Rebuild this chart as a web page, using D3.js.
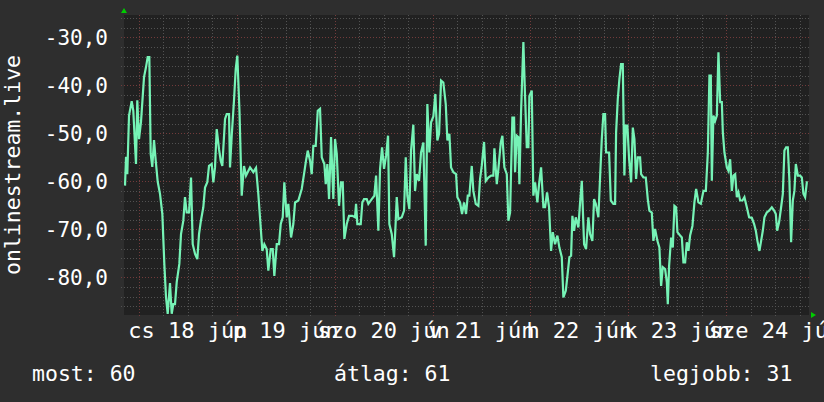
<!DOCTYPE html>
<html>
<head>
<meta charset="utf-8">
<script src="https://cdn.jsdelivr.net/npm/d3@7"></script>
<style>
  body { margin: 0; background: #2e2e2e; }
  text { font-family: "DejaVu Sans Mono", monospace; font-size: 21px; fill: #ffffff; }
  .xlabel { font-size: 22px; }
  .legend, .ytitle { font-size: 21.5px; }
</style>
</head>
<body>
<div class="chart"></div>
<script>
const WIDTH = 824;
const HEIGHT = 402;
const PLOT_LEFT = 124, PLOT_RIGHT = 809, PLOT_TOP = 15, PLOT_BOTTOM = 315;

// hours since 2020-06-18 00:00
var hours = [
  -3.43,-3.19,-2.87,-2.45,-1.79,-1.40,-0.74,-0.42,0.00,0.49,
  1.23,1.72,2.13,2.53,2.87,3.26,3.68,4.10,4.59,5.15,
  5.72,6.21,6.62,7.04,7.60,8.02,8.41,8.83,9.25,9.89,
  10.30,10.87,11.28,11.70,12.27,12.76,13.17,13.74,14.30,14.72,
  15.13,15.77,16.19,16.75,17.17,17.83,18.23,18.64,19.06,19.62,
  20.04,20.43,21.10,21.51,22.08,22.32,22.74,23.30,23.72,24.11,
  24.65,25.19,25.75,26.24,27.23,28.04,28.70,29.26,29.85,30.25,
  30.74,31.32,31.72,32.31,32.80,33.19,33.78,34.34,34.76,35.25,
  35.64,36.23,36.62,37.29,37.85,38.27,39.08,39.91,40.47,40.96,
  41.38,41.95,42.36,42.76,43.34,43.84,44.40,44.82,45.45,45.80,
  46.19,46.61,47.10,47.66,48.08,48.50,49.06,49.55,49.97,50.36,
  50.95,51.51,52.32,52.98,53.23,53.55,54.38,54.77,55.19,55.85,
  56.25,57.08,57.72,58.14,58.70,59.12,59.61,60.10,60.59,61.08,
  61.40,61.99,62.55,62.97,63.21,63.61,64.44,65.01,65.42,65.81,
  66.30,66.72,67.28,67.70,68.12,68.68,69.17,69.74,70.32,70.72,
  71.21,71.63,72.19,72.68,73.17,73.59,74.08,74.64,75.23,75.63,
  76.12,76.53,77.10,77.76,78.08,78.74,79.23,79.72,80.21,80.63,
  81.02,81.61,82.00,82.59,83.23,83.65,84.06,84.63,85.05,85.68,
  86.35,86.91,87.16,87.75,88.14,88.73,89.12,89.61,90.20,90.59,
  91.01,91.57,91.99,92.23,92.65,93.04,93.29,93.70,94.27,94.69,
  95.10,95.50,95.74,96.33,96.72,97.14,97.70,98.12,98.61,99.18,
  99.59,100.08,100.57,101.06,101.48,102.04,102.61,103.10,103.69,104.08,
  104.67,105.16,105.56,105.97,106.29,106.71,107.12,107.76,108.18,108.60,
  109.16,109.65,110.21,110.63,111.19,111.61,112.03,112.66,113.08,113.50,
  113.89,114.31,114.55,115.29,115.71,116.34,116.76,117.01,117.42,117.82,
  118.23,118.65,119.04,119.38,119.78,120.20,120.69,121.11,121.50,121.91,
  122.33,122.89,123.14,123.70,124.29,124.78,125.17,125.76,126.16,126.57,
  127.14,127.63,128.05,128.46,129.03,129.45,129.69,130.01,130.50,130.92,
  131.31,131.73,132.05,132.71,133.13,133.52,133.94,134.35,134.75,135.16,
  135.73,136.22,136.64,137.20,137.79,138.43,139.02,139.51,139.90,140.24,
  140.49,140.88,141.30,141.72,142.11,142.53,142.94,143.19,143.58,144.17,
  144.56,144.98,145.40,145.79,146.21,146.62,147.01,147.43,147.99,148.48,
  149.07,149.63,150.30,150.86,151.28,151.67,152.16,152.58,152.99,153.39,
  153.97,154.54,155.20,155.76,156.18,156.50,156.99,157.48,157.90,158.29,
  158.71,159.12,159.52,159.93,160.35,160.74,161.09,161.58,162.14,162.56,
  162.95,163.37,163.79,164.03
];

var rank = [
  -60.9,-54.9,-58.5,-46.3,-43.3,-45.3,-56.4,-43.1,-51.2,-47.6,
  -38.3,-36.2,-34.1,-34.1,-54.3,-57.0,-51.4,-55.7,-60.1,-62.6,
  -66.8,-77.2,-84.1,-87.6,-81.2,-87.6,-85.6,-85.6,-81.0,-77.2,
  -71.0,-68.2,-63.3,-66.5,-66.5,-59.2,-73.1,-75.1,-76.2,-71.0,
  -68.5,-65.4,-61.3,-60.2,-56.8,-56.4,-60.2,-57.1,-49.1,-53.3,
  -55.7,-56.8,-47.0,-46.0,-46.0,-57.1,-50.5,-43.1,-36.6,-33.8,
  -45.6,-63.0,-56.8,-58.8,-57.1,-58.1,-57.2,-62.6,-69.6,-74.5,
  -73.1,-74.1,-78.6,-74.1,-74.1,-79.7,-73.1,-73.1,-68.9,-67.5,
  -60.2,-67.5,-64.7,-71.7,-68.9,-64.4,-64.0,-61.6,-58.5,-55.7,
  -53.6,-55.7,-58.5,-52.6,-52.6,-45.3,-44.9,-55.0,-56.4,-60.6,
  -56.4,-63.7,-50.8,-63.7,-51.2,-54.3,-65.1,-60.2,-60.2,-72.0,
  -68.9,-67.2,-67.2,-67.5,-64.7,-68.9,-68.9,-64.4,-63.7,-63.7,
  -64.7,-63.7,-63.0,-58.8,-70.3,-57.4,-52.9,-57.4,-54.7,-50.5,
  -68.9,-71.0,-75.8,-68.2,-63.3,-67.9,-67.5,-66.1,-55.0,-63.0,
  -65.8,-53.6,-48.2,-62.0,-58.5,-59.9,-54.0,-51.9,-73.4,-43.9,
  -54.0,-47.7,-46.5,-41.8,-51.5,-50.1,-39.0,-39.4,-43.9,-51.5,
  -50.1,-57.1,-58.1,-58.5,-63.3,-64.4,-66.8,-64.4,-66.8,-63.0,
  -63.0,-56.8,-62.0,-64.7,-65.1,-59.5,-56.8,-51.8,-59.9,-59.2,
  -58.8,-58.8,-53.1,-60.6,-57.4,-51.9,-50.5,-57.1,-58.5,-68.2,
  -66.5,-46.7,-46.7,-58.1,-50.5,-50.8,-60.6,-45.6,-31.0,-42.5,
  -52.9,-52.9,-42.2,-41.1,-63.0,-60.2,-64.4,-60.6,-57.1,-65.4,
  -65.4,-62.3,-65.4,-74.5,-70.6,-73.1,-71.3,-73.8,-75.8,-84.2,
  -82.8,-79.0,-75.8,-75.5,-67.2,-70.3,-67.5,-69.6,-64.4,-59.9,
  -73.1,-74.1,-67.5,-71.0,-72.4,-63.7,-64.7,-67.5,-59.2,-51.2,
  -46.0,-46.0,-54.0,-54.0,-64.0,-64.7,-64.7,-49.8,-42.9,-38.7,
  -35.6,-35.6,-58.8,-48.4,-48.4,-55.4,-60.2,-48.8,-51.2,-59.5,
  -55.0,-55.0,-58.5,-59.2,-59.2,-63.7,-66.1,-66.5,-72.4,-69.9,
  -72.4,-73.8,-81.8,-77.9,-78.3,-81.0,-85.6,-77.6,-71.7,-73.8,
  -65.1,-65.4,-70.6,-71.3,-71.7,-76.9,-76.9,-72.7,-74.5,-71.3,
  -69.3,-64.4,-61.6,-64.4,-64.7,-62.0,-62.0,-54.0,-38.0,-38.0,
  -59.9,-46.3,-47.4,-46.3,-33.1,-43.5,-43.5,-49.8,-54.0,-57.1,
  -57.8,-55.4,-62.0,-58.8,-58.5,-63.3,-62.3,-64.0,-64.0,-63.3,
  -65.4,-67.5,-67.6,-68.9,-70.3,-72.4,-74.5,-72.4,-70.3,-67.5,
  -66.5,-66.1,-65.4,-66.1,-66.8,-70.3,-68.5,-65.4,-62.6,-53.6,
  -52.9,-52.9,-59.9,-72.7,-64.0,-62.0,-56.4,-58.8,-58.8,-59.2,
  -62.6,-63.3,-60.2,-60.2
];

var yMajorTicks = [-80, -70, -60, -50, -40, -30];
var shortDays = ['v', 'h', 'k', 'sze', 'cs', 'p', 'szo'];
var shortMonths = ['jan', 'febr', 'márc', 'ápr', 'máj', 'jún', 'júl', 'aug', 'szept', 'okt', 'nov', 'dec'];
var legendItems = ['most: 60', 'átlag: 61', 'legjobb: 31'];
var yTitle = 'onlinestream.live';

const BASE = Date.UTC(2020, 5, 18);
const HOUR = 3600 * 1000;

var data = hours.map(function (h, i) {
    return {t: new Date(BASE + h * HOUR), v: rank[i]};
});

var huLocale = d3.timeFormatLocale({
    dateTime: '%Y. %B %-e. %X', date: '%Y.%m.%d.', time: '%H:%M:%S',
    periods: ['de.', 'du.'],
    days: shortDays, shortDays: shortDays,
    months: shortMonths, shortMonths: shortMonths
});
var labelFormat = huLocale.utcFormat('%a %d %b');

var xScale = d3.scaleUtc()
    .domain([new Date(BASE - 3.68 * HOUR), new Date(BASE + 164.32 * HOUR)])
    .range([PLOT_LEFT, PLOT_RIGHT]);
var yScale = d3.scaleLinear()
    .domain([-87.85, -25.35])
    .range([PLOT_BOTTOM, PLOT_TOP]);

var svg = d3.select('.chart').append('svg')
    .attr('width', WIDTH)
    .attr('height', HEIGHT)
    .style('display', 'block');

svg.append('rect').attr('width', WIDTH).attr('height', HEIGHT).attr('fill', '#2e2e2e');
svg.append('rect')
    .attr('x', PLOT_LEFT).attr('y', PLOT_TOP)
    .attr('width', PLOT_RIGHT - PLOT_LEFT).attr('height', PLOT_BOTTOM - PLOT_TOP)
    .attr('fill', '#212121');

function px(v) { return Math.round(v) + 0.5; }

var grid = svg.append('g').attr('shape-rendering', 'crispEdges');

// horizontal grid
var yMinor = d3.range(-86, -25, 2).filter(function (v) { return v % 10 !== 0; });
grid.selectAll('.yminor').data(yMinor).enter().append('line')
    .attr('x1', PLOT_LEFT - 3).attr('x2', PLOT_RIGHT)
    .attr('y1', function (d) { return px(yScale(d)); })
    .attr('y2', function (d) { return px(yScale(d)); })
    .attr('stroke', '#525252').attr('stroke-dasharray', '1,2');
grid.selectAll('.ymajor').data(yMajorTicks).enter().append('line')
    .attr('x1', PLOT_LEFT - 3).attr('x2', PLOT_RIGHT)
    .attr('y1', function (d) { return px(yScale(d)); })
    .attr('y2', function (d) { return px(yScale(d)); })
    .attr('stroke', '#723b3b').attr('stroke-dasharray', '1,2');

// vertical grid
var xMinor = d3.utcHour.every(6).range(xScale.domain()[0], xScale.domain()[1])
    .filter(function (d) { return d.getUTCHours() !== 0; });
var xMajor = d3.utcDay.range(xScale.domain()[0], xScale.domain()[1]);
grid.selectAll('.xminor').data(xMinor).enter().append('line')
    .attr('x1', function (d) { return px(xScale(d)); })
    .attr('x2', function (d) { return px(xScale(d)); })
    .attr('y1', PLOT_TOP).attr('y2', PLOT_BOTTOM + 3)
    .attr('stroke', '#525252').attr('stroke-dasharray', '1,2');
grid.selectAll('.xmajor').data(xMajor).enter().append('line')
    .attr('x1', function (d) { return px(xScale(d)); })
    .attr('x2', function (d) { return px(xScale(d)); })
    .attr('y1', PLOT_TOP).attr('y2', PLOT_BOTTOM + 3)
    .attr('stroke', '#723b3b').attr('stroke-dasharray', '1,2');

// y labels
svg.selectAll('.ylabel').data(yMajorTicks).enter().append('text')
    .attr('class', 'ylabel')
    .attr('x', 108)
    .attr('y', function (d) { return yScale(d); })
    .attr('dy', '0.36em')
    .attr('text-anchor', 'end')
    .text(function (d) { return d3.format('.1f')(d).replace('.', ',').replace('−', '-'); });

// x labels at noon
var noons = xMajor.map(function (d) { return d3.utcHour.offset(d, 12); })
    .filter(function (d) { return d < xScale.domain()[1]; });
svg.selectAll('.xlabel').data(noons).enter().append('text')
    .attr('class', 'xlabel')
    .attr('x', function (d) { return xScale(d); })
    .attr('y', 338)
    .attr('text-anchor', 'middle')
    .text(function (d) { return labelFormat(d); });

// series line
svg.append('clipPath').attr('id', 'plotclip').append('rect')
    .attr('x', PLOT_LEFT).attr('y', PLOT_TOP)
    .attr('width', PLOT_RIGHT - PLOT_LEFT).attr('height', PLOT_BOTTOM - PLOT_TOP);

var line = d3.line()
    .x(function (d) { return xScale(d.t); })
    .y(function (d) { return yScale(d.v); });

svg.append('path')
    .attr('d', line(data))
    .attr('clip-path', 'url(#plotclip)')
    .attr('fill', 'none')
    .attr('stroke', '#76f3b6')
    .attr('stroke-width', 2.2);

// arrows
svg.append('path')
    .attr('d', 'M' + (PLOT_LEFT - 3) + ',' + 13 + 'L' + (PLOT_LEFT + 3) + ',' + 13 + 'L' + PLOT_LEFT + ',' + 8 + 'Z')
    .attr('fill', '#00cc00');
svg.append('path')
    .attr('d', 'M' + (PLOT_RIGHT + 2) + ',' + (PLOT_BOTTOM - 3) + 'L' + (PLOT_RIGHT + 2) + ',' + (PLOT_BOTTOM + 3) + 'L' + (PLOT_RIGHT + 7) + ',' + PLOT_BOTTOM + 'Z')
    .attr('fill', '#00cc00');

// y title
svg.append('text')
    .attr('class', 'ytitle')
    .attr('transform', 'translate(20,' + ((PLOT_TOP + PLOT_BOTTOM) / 2) + ') rotate(-90)')
    .attr('text-anchor', 'middle')
    .text(yTitle);

// legend
var legendX = [32, 334, 650];
svg.selectAll('.legend').data(legendItems).enter().append('text')
    .attr('class', 'legend')
    .attr('x', function (d, i) { return legendX[i]; })
    .attr('y', 381)
    .text(function (d) { return d; });
</script>
</body>
</html>
